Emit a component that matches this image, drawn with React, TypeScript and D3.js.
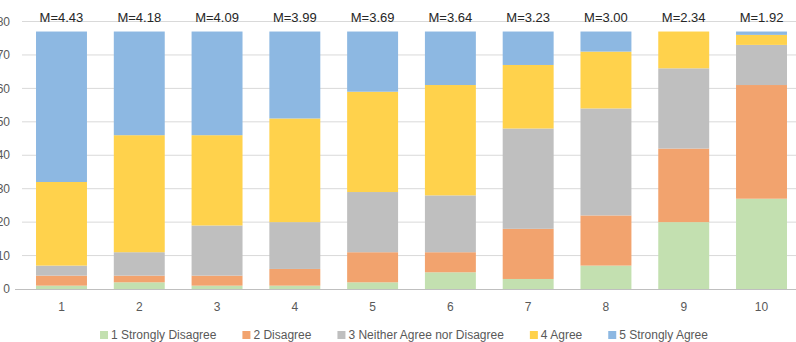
import React, { useEffect, useRef } from "react";
import * as d3 from "d3";

// Survey items 1..10 and response counts per Likert level
const items = ["1", "2", "3", "4", "5", "6", "7", "8", "9", "10"];
const means = ["4.43", "4.18", "4.09", "3.99", "3.69", "3.64", "3.23", "3.00", "2.34", "1.92"];

const stronglyDisagree = [1, 2, 1, 1, 2, 5, 3, 7, 20, 27];
const disagree = [3, 2, 3, 5, 9, 6, 15, 15, 22, 34];
const neither = [3, 7, 15, 14, 18, 17, 30, 32, 24, 12];
const agree = [25, 35, 27, 31, 30, 33, 19, 17, 11, 3];
const stronglyAgree = [45, 31, 31, 26, 18, 16, 10, 6, 0, 1];

const seriesNames = [
  "1 Strongly Disagree",
  "2 Disagree",
  "3 Neither Agree nor Disagree",
  "4 Agree",
  "5 Strongly Agree",
];
const seriesValues = [stronglyDisagree, disagree, neither, agree, stronglyAgree];
const colors = ["#C3E0B0", "#F2A36E", "#BFBFBF", "#FFD24C", "#8DB8E2"];

const yTicks = [0, 10, 20, 30, 40, 50, 60, 70, 80];

const W = 796;
const H = 342;
const FONT = "'Liberation Sans', Arial, sans-serif";

export default function App() {
  const ref = useRef<SVGSVGElement>(null);

  useEffect(() => {
    const svg = d3.select(ref.current);
    svg.selectAll("*").remove();

    const x = d3
      .scaleBand<string>()
      .domain(items)
      .range([22.6, 800.4])
      .paddingInner(0.345)
      .paddingOuter(0.1725);

    const y = d3.scaleLinear().domain([0, 80]).range([289, 21.5]);

    // gridlines
    svg
      .append("g")
      .selectAll("line")
      .data(yTicks.slice(1))
      .enter()
      .append("line")
      .attr("x1", 22)
      .attr("x2", W)
      .attr("y1", (d) => y(d))
      .attr("y2", (d) => y(d))
      .attr("stroke", "#D9D9D9")
      .attr("stroke-width", 1);

    // y tick labels (the left edge of the chart clips them slightly)
    svg
      .append("g")
      .selectAll("text")
      .data(yTicks)
      .enter()
      .append("text")
      .attr("x", 10)
      .attr("y", (d) => y(d))
      .attr("dy", "0.35em")
      .attr("text-anchor", "end")
      .attr("font-family", FONT)
      .attr("font-size", 12)
      .attr("fill", "#595959")
      .text((d) => d);

    // stacked bars
    const rows = items.map((it, i) => {
      const row: any = { item: it };
      seriesNames.forEach((s, k) => (row[s] = seriesValues[k][i]));
      return row;
    });
    const stack = d3.stack().keys(seriesNames)(rows);

    svg
      .append("g")
      .selectAll("g")
      .data(stack)
      .enter()
      .append("g")
      .attr("fill", (_, k) => colors[k])
      .selectAll("rect")
      .data((d) => d)
      .enter()
      .append("rect")
      .attr("x", (d: any) => x(d.data.item)!)
      .attr("width", x.bandwidth())
      .attr("y", (d) => y(d[1]))
      .attr("height", (d) => y(d[0]) - y(d[1]));

    // x axis line
    svg
      .append("line")
      .attr("x1", 15)
      .attr("x2", W)
      .attr("y1", y(0) + 0.5)
      .attr("y2", y(0) + 0.5)
      .attr("stroke", "#BFBFBF");

    // x tick labels
    svg
      .append("g")
      .selectAll("text")
      .data(items)
      .enter()
      .append("text")
      .attr("x", (d) => x(d)! + x.bandwidth() / 2)
      .attr("y", 307)
      .attr("dy", "0.35em")
      .attr("text-anchor", "middle")
      .attr("font-family", FONT)
      .attr("font-size", 12)
      .attr("fill", "#595959")
      .text((d) => d);

    // mean labels above bars
    svg
      .append("g")
      .selectAll("text")
      .data(items)
      .enter()
      .append("text")
      .attr("x", (d) => x(d)! + x.bandwidth() / 2)
      .attr("y", 17)
      .attr("dy", "0.35em")
      .attr("text-anchor", "middle")
      .attr("font-family", FONT)
      .attr("font-size", 13)
      .attr("fill", "#262626")
      .text((_, i) => `M=${means[i]}`);

    // legend
    const legend = svg.append("g");
    const gap = 26;
    const entries = legend
      .selectAll("g")
      .data(seriesNames)
      .enter()
      .append("g");
    entries
      .append("rect")
      .attr("width", 8)
      .attr("height", 8)
      .attr("y", 331)
      .attr("fill", (_, k) => colors[k]);
    entries
      .append("text")
      .attr("x", 11)
      .attr("y", 335)
      .attr("dy", "0.35em")
      .attr("font-family", FONT)
      .attr("font-size", 12)
      .attr("fill", "#595959")
      .text((d) => d);

    const widths: number[] = [];
    entries.each(function () {
      const t = d3.select(this).select("text").node() as SVGTextElement;
      widths.push(11 + t.getComputedTextLength());
    });
    const total = d3.sum(widths) + gap * (widths.length - 1);
    let cx = 404 - total / 2;
    entries.attr("transform", (_, k) => {
      const tx = cx;
      cx += widths[k] + gap;
      return `translate(${tx},0)`;
    });
  }, []);

  return (
    <svg
      ref={ref}
      width={W}
      height={H}
      style={{ position: "absolute", left: 0, top: 0, background: "#fff" }}
    />
  );
}
